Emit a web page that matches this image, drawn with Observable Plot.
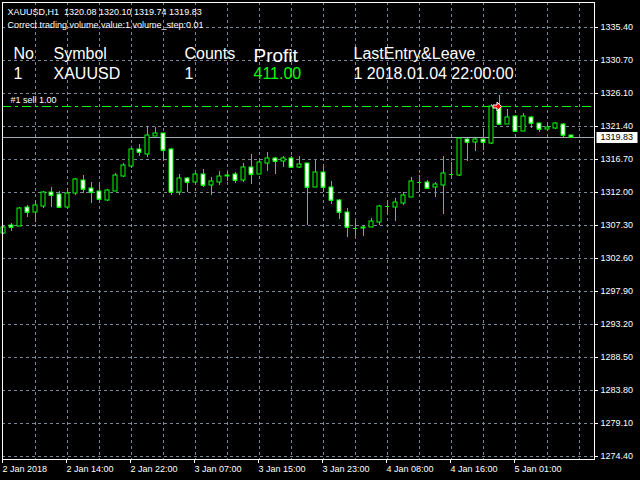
<!DOCTYPE html>
<html><head><meta charset="utf-8">
<script src="https://cdn.jsdelivr.net/npm/d3@7"></script>
<script src="https://cdn.jsdelivr.net/npm/@observablehq/plot@0.6"></script>
<style>
html,body{margin:0;padding:0;background:#000;}
#chart svg{display:block;}
</style></head><body><div id="chart"></div>
<script>
const symbolName = "XAUUSD";
const timeframe = "H1";
const infoLine2 = "Correct trading volume value:1 volume_step:0.01";

const opens = [1306.20,1307.33,1307.19,1309.85,1309.18,1309.99,1311.94,1311.70,1309.89,1311.80,
1313.69,1312.51,1312.08,1310.84,1312.17,1314.30,1315.68,1318.05,1317.43,1319.99,
1320.33,1318.10,1312.02,1313.97,1313.45,1314.54,1313.02,1313.40,1314.30,1314.54,
1313.73,1315.54,1314.58,1316.15,1316.82,1316.35,1316.82,1315.58,1316.06,1312.73,
1314.78,1312.65,1310.89,1309.10,1306.90,1306.93,1307.05,1307.76,1309.96,1309.89,
1310.46,1311.31,1313.38,1313.36,1312.65,1313.02,1314.51,1314.44,1319.47,1319.05,
1319.47,1318.91,1324.17,1321.69,1322.75,1320.70,1322.60,1321.75,1320.90,1321.12,
1321.61,1320.08];
const highs = [1307.15,1307.53,1309.85,1310.13,1310.84,1312.13,1312.69,1312.13,1312.51,1313.93,
1314.39,1313.36,1313.36,1312.34,1314.64,1316.06,1318.20,1318.76,1321.37,1321.27,
1320.37,1318.24,1314.54,1314.07,1314.68,1315.25,1314.07,1314.92,1314.82,1314.82,
1316.10,1317.38,1316.32,1317.67,1316.96,1317.10,1317.06,1317.06,1316.17,1316.49,
1315.54,1313.50,1310.99,1309.71,1307.81,1307.25,1308.28,1310.17,1310.80,1311.13,
1311.94,1314.16,1314.35,1313.69,1313.36,1317.10,1316.25,1319.73,1319.66,1319.66,
1321.08,1324.49,1325.82,1323.78,1322.89,1323.21,1322.75,1321.83,1321.94,1321.89,
1321.83,1320.10];
const lows = [1306.01,1306.48,1307.10,1308.47,1307.76,1309.71,1309.85,1309.81,1309.66,1311.60,
1311.88,1310.46,1310.84,1310.77,1312.13,1314.16,1315.44,1317.10,1317.00,1319.95,
1316.43,1311.60,1311.60,1311.98,1313.02,1312.65,1311.60,1313.02,1313.59,1313.26,
1313.40,1313.12,1314.54,1315.01,1314.54,1315.58,1315.39,1315.39,1307.33,1312.65,
1311.98,1310.32,1308.18,1305.62,1305.72,1305.72,1307.00,1307.33,1308.75,1307.81,
1310.17,1311.25,1311.98,1312.41,1311.31,1308.90,1313.97,1314.21,1316.43,1317.85,
1318.00,1318.85,1321.65,1321.65,1320.51,1320.65,1321.08,1320.47,1320.61,1320.94,
1319.76,1319.74];
const closes = [1307.05,1306.96,1309.71,1309.18,1310.13,1311.98,1311.62,1309.89,1311.80,1313.79,
1312.41,1311.94,1310.99,1312.27,1314.35,1315.78,1318.05,1317.71,1320.09,1320.37,
1318.00,1312.02,1313.97,1313.45,1314.54,1313.02,1313.55,1314.26,1314.33,1313.73,
1315.54,1314.58,1316.25,1316.82,1316.35,1316.82,1315.58,1315.96,1312.73,1314.78,
1312.65,1310.89,1309.14,1306.96,1306.82,1306.99,1307.81,1309.99,1309.99,1310.52,
1311.55,1313.50,1313.40,1312.59,1313.08,1314.64,1314.54,1319.66,1319.05,1319.47,
1319.05,1324.17,1321.69,1322.60,1320.70,1322.75,1321.75,1320.90,1321.22,1321.75,
1320.04,1319.83];

const timeTickBars = [0, 8, 16, 24, 32, 40, 48, 56, 64];
const timeTickLabels = ["2 Jan 2018","2 Jan 14:00","2 Jan 22:00","3 Jan 07:00","3 Jan 15:00","3 Jan 23:00","4 Jan 08:00","4 Jan 16:00","5 Jan 01:00"];
const priceTicks = [1335.40,1330.70,1326.10,1321.40,1316.70,1312.00,1307.30,1302.60,1297.90,1293.20,1288.50,1283.80,1279.10,1274.40];

const bidPrice = 1319.83;
const sellPrice = 1324.21;
const sellBar = 62;
const sellLabel = "#1 sell 1.00";

const tableHeaders = ["No", "Symbol", "Counts", "Profit", "LastEntry&Leave"];
const tableRow = ["1", "XAUUSD", "1", "411.00", "1 2018.01.04 22:00:00"];

// ---- derived ----
const bars = opens.map((o, i) => ({i, open: o, high: highs[i], low: lows[i], close: closes[i]}));
const last = bars[bars.length - 1];
const infoLine1 = `${symbolName},${timeframe}\u00a0 ${last.open.toFixed(2)} ${last.high.toFixed(2)} ${last.low.toFixed(2)} ${last.close.toFixed(2)}`;
const gridBars = d3.range(4, 73, 4);

const green = "#00ff00";
const gridColor = "#7b8899";
const bidColor = "#a3abb8";
const font = "Liberation Sans, Arial, sans-serif";

const boxSymbol = {draw(ctx) { ctx.rect(-20.5, -5.5, 41, 11); }};
const arrowSymbol = {draw(ctx) {
  ctx.moveTo(-4, -1.5); ctx.lineTo(0, -1.5); ctx.lineTo(0, -4.5);
  ctx.lineTo(4.5, 0); ctx.lineTo(0, 4.5); ctx.lineTo(0, 1.5); ctx.lineTo(-4, 1.5); ctx.closePath();
}};

const colX = [11, 51, 182, 251, 351];

const chart = Plot.plot({
  width: 640,
  height: 480,
  marginLeft: 2,
  marginRight: 46,
  marginTop: 2,
  marginBottom: 21,
  style: {background: "black", color: "white", fontFamily: font, fontSize: "9px"},
  x: {type: "linear", domain: [-0.125, 73.875], round: true},
  y: {type: "linear", domain: [1274.016, 1338.997], round: true},
  marks: [
    Plot.ruleY(priceTicks, {stroke: gridColor, strokeDasharray: "3,3"}),
    Plot.ruleX(gridBars, {stroke: gridColor, strokeDasharray: "3,3"}),
    Plot.ruleY([bidPrice], {stroke: bidColor}),
    Plot.ruleY([sellPrice], {stroke: green, strokeDasharray: "9,4,3,4"}),
    Plot.ruleX(bars, {x: "i", y1: "low", y2: "high", stroke: green}),
    Plot.ruleY(bars, {y: "close", x1: d => d.i - 0.25, x2: d => d.i + 0.25, stroke: green}),
    Plot.rect(bars, {x1: d => d.i - 0.25, x2: d => d.i + 0.25, y1: "open", y2: "close",
      fill: d => d.close >= d.open ? "black" : "white", stroke: green}),
    Plot.dot([{i: sellBar, p: sellPrice}], {x: "i", y: "p", symbol: arrowSymbol, fill: "#ff0000", stroke: "white", strokeWidth: 1, dx: -2.5, r: 5}),
    Plot.text([sellLabel], {y: () => sellPrice, frameAnchor: "left", textAnchor: "start", lineAnchor: "top", dx: 8, dy: -9.5, fill: "white", fontSize: 9}),
    Plot.frame({stroke: "white"}),
    Plot.axisY(priceTicks, {anchor: "right", tickSize: 3, tickPadding: 3, tickFormat: d => d.toFixed(2), fontSize: 9, label: null}),
    Plot.axisX(timeTickBars, {anchor: "bottom", tickSize: 4, tickPadding: 2, textAnchor: "start", dx: -1,
      tickFormat: d => timeTickLabels[timeTickBars.indexOf(d)], fontSize: 9, label: null}),
    Plot.dot([bidPrice], {y: d => d, frameAnchor: "right", dx: 22.5, symbol: boxSymbol, fill: "white", stroke: "none", r: 5}),
    Plot.text([bidPrice], {y: d => d, frameAnchor: "right", dx: 6, textAnchor: "start", text: d => d.toFixed(2), fill: "black", fontSize: 9}),
    Plot.text([infoLine1], {frameAnchor: "top-left", textAnchor: "start", lineAnchor: "top", dx: 5, dy: 6.3, fill: "white", fontSize: 9}),
    Plot.text([infoLine2], {frameAnchor: "top-left", textAnchor: "start", lineAnchor: "top", dx: 5, dy: 18.7, fill: "white", fontSize: 9}),
    ...tableHeaders.map((h, k) => Plot.text([h], {frameAnchor: "top-left", textAnchor: "start", lineAnchor: "top",
      dx: colX[k], dy: k === 3 ? 45.5 : 44.9, fill: "white", fontSize: k === 3 ? 19 : 16})),
    ...tableRow.map((v, k) => Plot.text([v], {frameAnchor: "top-left", textAnchor: "start", lineAnchor: "top",
      dx: colX[k], dy: 64.9, fill: k === 3 ? green : "white", fontSize: 16}))
  ]
});
document.getElementById("chart").appendChild(chart);
</script>
</body></html>
